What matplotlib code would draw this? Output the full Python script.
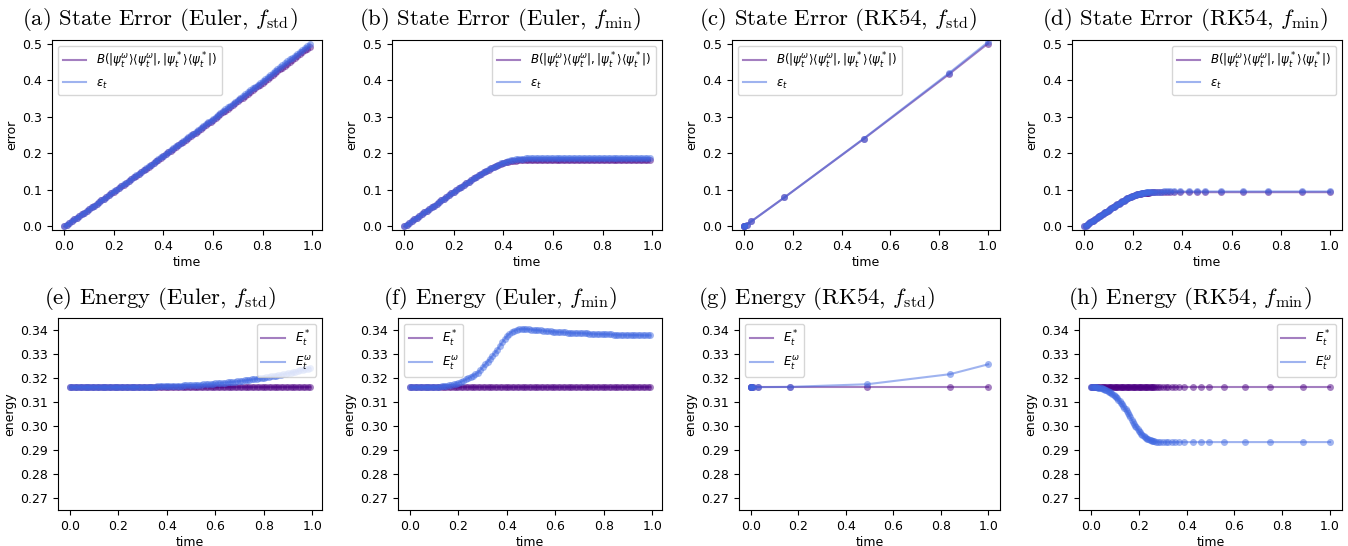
import matplotlib
matplotlib.use('Agg')
from matplotlib import pyplot as plt

plt.rcParams['mathtext.fontset'] = 'dejavusans'

# ---- data ----
# Euler grid, dt = 0.01
t_euler = [0.00, 0.01, 0.02, 0.03, 0.04, 0.05, 0.06, 0.07, 0.08, 0.09,
           0.10, 0.11, 0.12, 0.13, 0.14, 0.15, 0.16, 0.17, 0.18, 0.19,
           0.20, 0.21, 0.22, 0.23, 0.24, 0.25, 0.26, 0.27, 0.28, 0.29,
           0.30, 0.31, 0.32, 0.33, 0.34, 0.35, 0.36, 0.37, 0.38, 0.39,
           0.40, 0.41, 0.42, 0.43, 0.44, 0.45, 0.46, 0.47, 0.48, 0.49,
           0.50, 0.51, 0.52, 0.53, 0.54, 0.55, 0.56, 0.57, 0.58, 0.59,
           0.60, 0.61, 0.62, 0.63, 0.64, 0.65, 0.66, 0.67, 0.68, 0.69,
           0.70, 0.71, 0.72, 0.73, 0.74, 0.75, 0.76, 0.77, 0.78, 0.79,
           0.80, 0.81, 0.82, 0.83, 0.84, 0.85, 0.86, 0.87, 0.88, 0.89,
           0.90, 0.91, 0.92, 0.93, 0.94, 0.95, 0.96, 0.97, 0.98, 0.99]

# (a) Euler, f_std
bures_a = [0.0, 0.0047, 0.0094, 0.0141, 0.0189, 0.0236, 0.0283, 0.0331, 0.0377, 0.0425,
           0.0473, 0.0520, 0.0568, 0.0616, 0.0663, 0.0711, 0.0759, 0.0807, 0.0854, 0.0903,
           0.0951, 0.0998, 0.1047, 0.1096, 0.1143, 0.1192, 0.1241, 0.1289, 0.1337, 0.1385,
           0.1435, 0.1483, 0.1532, 0.1580, 0.1630, 0.1678, 0.1727, 0.1776, 0.1825, 0.1874,
           0.1923, 0.1973, 0.2022, 0.2071, 0.2121, 0.2170, 0.2219, 0.2268, 0.2319, 0.2368,
           0.2418, 0.2467, 0.2517, 0.2567, 0.2617, 0.2667, 0.2717, 0.2767, 0.2817, 0.2867,
           0.2917, 0.2967, 0.3018, 0.3068, 0.3118, 0.3169, 0.3219, 0.3270, 0.3321, 0.3372,
           0.3423, 0.3473, 0.3524, 0.3575, 0.3626, 0.3677, 0.3728, 0.3780, 0.3830, 0.3881,
           0.3933, 0.3985, 0.4035, 0.4087, 0.4139, 0.4190, 0.4242, 0.4293, 0.4345, 0.4397,
           0.4449, 0.4501, 0.4552, 0.4605, 0.4656, 0.4709, 0.4761, 0.4813, 0.4865, 0.4918]
eps_a = [0.0, 0.0047, 0.0094, 0.0141, 0.0189, 0.0236, 0.0283, 0.0331, 0.0378, 0.0426,
         0.0474, 0.0521, 0.0569, 0.0617, 0.0665, 0.0713, 0.0761, 0.0809, 0.0857, 0.0906,
         0.0954, 0.1002, 0.1051, 0.1100, 0.1148, 0.1197, 0.1246, 0.1295, 0.1343, 0.1392,
         0.1442, 0.1491, 0.1540, 0.1589, 0.1639, 0.1688, 0.1737, 0.1787, 0.1837, 0.1886,
         0.1936, 0.1986, 0.2036, 0.2086, 0.2136, 0.2186, 0.2236, 0.2286, 0.2337, 0.2387,
         0.2438, 0.2488, 0.2539, 0.2589, 0.2640, 0.2691, 0.2742, 0.2793, 0.2844, 0.2895,
         0.2946, 0.2997, 0.3049, 0.3100, 0.3151, 0.3203, 0.3254, 0.3306, 0.3358, 0.3410,
         0.3462, 0.3513, 0.3565, 0.3618, 0.3670, 0.3722, 0.3774, 0.3827, 0.3879, 0.3931,
         0.3984, 0.4037, 0.4089, 0.4142, 0.4195, 0.4248, 0.4301, 0.4354, 0.4407, 0.4460,
         0.4514, 0.4567, 0.4620, 0.4674, 0.4727, 0.4781, 0.4835, 0.4888, 0.4942, 0.4996]

# (b) Euler, f_min
bures_b = [0.0, 0.0048, 0.0095, 0.0143, 0.0190, 0.0238, 0.0285, 0.0333, 0.0380, 0.0428,
           0.0475, 0.0522, 0.0570, 0.0617, 0.0665, 0.0712, 0.0760, 0.0807, 0.0855, 0.0902,
           0.0950, 0.0996, 0.1043, 0.1089, 0.1135, 0.1180, 0.1225, 0.1269, 0.1313, 0.1356,
           0.1398, 0.1438, 0.1477, 0.1515, 0.1551, 0.1586, 0.1619, 0.1650, 0.1679, 0.1705,
           0.1728, 0.1748, 0.1765, 0.1779, 0.1790, 0.1798, 0.1803, 0.1806, 0.1808, 0.1809,
           0.1810, 0.1810, 0.1810, 0.1810, 0.1810, 0.1810, 0.1810, 0.1810, 0.1810, 0.1810,
           0.1810, 0.1810, 0.1810, 0.1810, 0.1810, 0.1810, 0.1810, 0.1810, 0.1810, 0.1810,
           0.1810, 0.1810, 0.1810, 0.1810, 0.1810, 0.1810, 0.1810, 0.1810, 0.1810, 0.1810,
           0.1810, 0.1810, 0.1810, 0.1810, 0.1810, 0.1810, 0.1810, 0.1810, 0.1810, 0.1810,
           0.1810, 0.1810, 0.1810, 0.1810, 0.1810, 0.1810, 0.1810, 0.1810, 0.1810, 0.1810]
eps_b = [0.0, 0.0048, 0.0095, 0.0143, 0.0190, 0.0238, 0.0285, 0.0333, 0.0380, 0.0428,
         0.0475, 0.0522, 0.0570, 0.0617, 0.0665, 0.0712, 0.0760, 0.0807, 0.0855, 0.0902,
         0.0950, 0.0996, 0.1043, 0.1089, 0.1135, 0.1180, 0.1225, 0.1269, 0.1313, 0.1356,
         0.1398, 0.1440, 0.1480, 0.1519, 0.1557, 0.1593, 0.1628, 0.1661, 0.1692, 0.1721,
         0.1747, 0.1771, 0.1792, 0.1809, 0.1823, 0.1834, 0.1843, 0.1850, 0.1855, 0.1858,
         0.1861, 0.1862, 0.1863, 0.1864, 0.1864, 0.1864, 0.1864, 0.1864, 0.1864, 0.1864,
         0.1864, 0.1864, 0.1864, 0.1864, 0.1864, 0.1864, 0.1864, 0.1864, 0.1864, 0.1864,
         0.1864, 0.1864, 0.1864, 0.1864, 0.1864, 0.1864, 0.1864, 0.1864, 0.1864, 0.1864,
         0.1864, 0.1864, 0.1864, 0.1864, 0.1864, 0.1864, 0.1864, 0.1864, 0.1864, 0.1864,
         0.1864, 0.1864, 0.1864, 0.1864, 0.1864, 0.1864, 0.1864, 0.1864, 0.1864, 0.1864]

# (e)/(f) Euler energies
e_star_euler = [0.3162, 0.3162, 0.3162, 0.3162, 0.3162, 0.3162, 0.3162, 0.3162, 0.3162, 0.3162,
                0.3162, 0.3162, 0.3162, 0.3162, 0.3162, 0.3162, 0.3162, 0.3162, 0.3162, 0.3162,
                0.3162, 0.3162, 0.3162, 0.3162, 0.3162, 0.3162, 0.3162, 0.3162, 0.3162, 0.3162,
                0.3162, 0.3162, 0.3162, 0.3162, 0.3162, 0.3162, 0.3162, 0.3162, 0.3162, 0.3162,
                0.3162, 0.3162, 0.3162, 0.3162, 0.3162, 0.3162, 0.3162, 0.3162, 0.3162, 0.3162,
                0.3162, 0.3162, 0.3162, 0.3162, 0.3162, 0.3162, 0.3162, 0.3162, 0.3162, 0.3162,
                0.3162, 0.3162, 0.3162, 0.3162, 0.3162, 0.3162, 0.3162, 0.3162, 0.3162, 0.3162,
                0.3162, 0.3162, 0.3162, 0.3162, 0.3162, 0.3162, 0.3162, 0.3162, 0.3162, 0.3162,
                0.3162, 0.3162, 0.3162, 0.3162, 0.3162, 0.3162, 0.3162, 0.3162, 0.3162, 0.3162,
                0.3162, 0.3162, 0.3162, 0.3162, 0.3162, 0.3162, 0.3162, 0.3162, 0.3162, 0.3162]
e_omega_e = [0.3162, 0.3162, 0.3162, 0.3162, 0.3162, 0.3162, 0.3162, 0.3162, 0.3162, 0.3162,
             0.3162, 0.3162, 0.3162, 0.3162, 0.3162, 0.3162, 0.3162, 0.3162, 0.3162, 0.3162,
             0.3162, 0.3162, 0.31622, 0.31623, 0.31625, 0.31626, 0.31628, 0.3163, 0.31631, 0.31633,
             0.31635, 0.31637, 0.31639, 0.31641, 0.31643, 0.31645, 0.31648, 0.31651, 0.31654, 0.31657,
             0.3166, 0.31663, 0.31667, 0.31671, 0.31675, 0.31679, 0.31684, 0.31688, 0.31693, 0.31698,
             0.31704, 0.31709, 0.31715, 0.31721, 0.31728, 0.31734, 0.31741, 0.31748, 0.31756, 0.31764,
             0.31772, 0.31781, 0.3179, 0.31799, 0.31808, 0.31818, 0.31828, 0.31839, 0.3185, 0.31861,
             0.31873, 0.31885, 0.31897, 0.3191, 0.31924, 0.31938, 0.31952, 0.31967, 0.31982, 0.31997,
             0.32013, 0.32029, 0.32046, 0.32063, 0.32081, 0.321, 0.32119, 0.32138, 0.32158, 0.32178,
             0.32199, 0.32221, 0.32243, 0.32266, 0.32289, 0.32313, 0.32337, 0.32362, 0.32387, 0.32413]
e_omega_f = [0.3162, 0.3162, 0.3162, 0.3162, 0.3162, 0.31621, 0.31621, 0.31622, 0.31623, 0.31625,
             0.3163, 0.31635, 0.3164, 0.3165, 0.3166, 0.31675, 0.3169, 0.3171, 0.3174, 0.3177,
             0.318, 0.31845, 0.3189, 0.3194, 0.3199, 0.32045, 0.321, 0.3216, 0.3222, 0.32335,
             0.3245, 0.32565, 0.3268, 0.328, 0.3292, 0.3305, 0.3318, 0.3333, 0.3348, 0.33615,
             0.3375, 0.3384, 0.3393, 0.33975, 0.3402, 0.34035, 0.3405, 0.34045, 0.3404, 0.3403,
             0.3402, 0.3401, 0.34, 0.3399, 0.3398, 0.3397, 0.3396, 0.3395, 0.3394, 0.33935,
             0.3393, 0.3392, 0.3391, 0.33905, 0.339, 0.33895, 0.3389, 0.33885, 0.3388, 0.33875,
             0.3387, 0.33865, 0.3386, 0.33855, 0.3385, 0.33845, 0.3384, 0.33835, 0.3383, 0.3383,
             0.3383, 0.33825, 0.3382, 0.33815, 0.3381, 0.3381, 0.3381, 0.33805, 0.338, 0.338,
             0.338, 0.33795, 0.3379, 0.3379, 0.3379, 0.33785, 0.3378, 0.3378, 0.3378, 0.3378]

# RK54, f_std (adaptive steps)
t_rk_std = [0.0, 0.0001, 0.0011, 0.0111, 0.03, 0.165, 0.49, 0.84, 1.0]
bures_c = [0.0, 0.00005, 0.0005, 0.005, 0.014, 0.079, 0.239, 0.416, 0.500]
eps_c = [0.0, 0.00005, 0.0005, 0.005, 0.014, 0.079, 0.240, 0.419, 0.504]
e_star_g = [0.3162, 0.3162, 0.3162, 0.3162, 0.3162, 0.3162, 0.3162, 0.3162, 0.3162]
e_omega_g = [0.3162, 0.3162, 0.3162, 0.3162, 0.3162, 0.3163, 0.3174, 0.3216, 0.3257]

# RK54, f_min (adaptive steps)
t_rk_min = [0.0, 0.005, 0.01, 0.015, 0.02, 0.025, 0.03, 0.035, 0.04, 0.045,
            0.05, 0.055, 0.06, 0.065, 0.07, 0.075, 0.08, 0.085, 0.09, 0.095,
            0.10, 0.105, 0.11, 0.115, 0.12, 0.125, 0.13, 0.135, 0.14, 0.145,
            0.15, 0.155, 0.16, 0.165, 0.17, 0.175, 0.18, 0.185, 0.19, 0.195,
            0.20, 0.205, 0.21, 0.215, 0.22, 0.225, 0.23, 0.235, 0.24, 0.245,
            0.25, 0.255, 0.26, 0.265, 0.27,
            0.28, 0.29, 0.30, 0.312, 0.324, 0.337, 0.35, 0.367, 0.391, 0.425,
            0.46, 0.492, 0.555, 0.645, 0.75, 0.886, 1.0]
bures_d = [0.0, 0.00225, 0.0045, 0.00675, 0.009, 0.01125, 0.0135, 0.01575, 0.018, 0.02025,
           0.0225, 0.02475, 0.027, 0.02925, 0.0315, 0.03375, 0.036, 0.03825, 0.0405, 0.04275,
           0.045, 0.0472, 0.0494, 0.0516, 0.0538, 0.056, 0.0582, 0.06035, 0.0625, 0.0646,
           0.0667, 0.0687, 0.0707, 0.0726, 0.0745, 0.0763, 0.078, 0.07955, 0.0811, 0.08245,
           0.0838, 0.0851, 0.0862, 0.0872, 0.0882, 0.089, 0.0898, 0.0904, 0.091, 0.0914,
           0.0918, 0.0921, 0.0924, 0.0926, 0.0928,
           0.0931, 0.0933, 0.0934, 0.0935, 0.0935, 0.0935, 0.0935, 0.0935, 0.0935, 0.0935,
           0.0935, 0.0935, 0.0935, 0.0935, 0.0935, 0.0935, 0.0935]
eps_d = [0.0, 0.00225, 0.0045, 0.00675, 0.009, 0.01125, 0.0135, 0.01575, 0.018, 0.02025,
         0.0225, 0.02475, 0.027, 0.02925, 0.0315, 0.03375, 0.036, 0.03825, 0.0405, 0.04275,
         0.045, 0.0472, 0.0494, 0.0516, 0.0538, 0.056, 0.0582, 0.06035, 0.0625, 0.0646,
         0.0667, 0.0687, 0.0707, 0.0726, 0.0745, 0.0763, 0.0781, 0.07975, 0.0814, 0.08285,
         0.0843, 0.08555, 0.0868, 0.08785, 0.0889, 0.08975, 0.0906, 0.09125, 0.0919, 0.0924,
         0.0929, 0.0933, 0.0937, 0.094, 0.0943,
         0.0947, 0.095, 0.0952, 0.0953, 0.0954, 0.0955, 0.0955, 0.0955, 0.0955, 0.0955,
         0.0955, 0.0955, 0.0955, 0.0955, 0.0955, 0.0955, 0.0955]
e_star_h = [0.3162, 0.3162, 0.3162, 0.3162, 0.3162, 0.3162, 0.3162, 0.3162, 0.3162, 0.3162,
            0.3162, 0.3162, 0.3162, 0.3162, 0.3162, 0.3162, 0.3162, 0.3162, 0.3162, 0.3162,
            0.3162, 0.3162, 0.3162, 0.3162, 0.3162, 0.3162, 0.3162, 0.3162, 0.3162, 0.3162,
            0.3162, 0.3162, 0.3162, 0.3162, 0.3162, 0.3162, 0.3162, 0.3162, 0.3162, 0.3162,
            0.3162, 0.3162, 0.3162, 0.3162, 0.3162, 0.3162, 0.3162, 0.3162, 0.3162, 0.3162,
            0.3162, 0.3162, 0.3162, 0.3162, 0.3162,
            0.3162, 0.3162, 0.3162, 0.3162, 0.3162, 0.3162, 0.3162, 0.3162, 0.3162, 0.3162,
            0.3162, 0.3162, 0.3162, 0.3162, 0.3162, 0.3162, 0.3162]
e_omega_h = [0.3162, 0.3162, 0.3162, 0.31615, 0.3161, 0.31605, 0.316, 0.3159, 0.3158, 0.31565,
             0.3155, 0.3153, 0.3151, 0.31485, 0.3146, 0.3143, 0.314, 0.31365, 0.3133, 0.3129,
             0.3125, 0.312, 0.3115, 0.31095, 0.3104, 0.30975, 0.3091, 0.3084, 0.3077, 0.30695,
             0.3062, 0.3054, 0.3046, 0.30365, 0.3027, 0.30185, 0.301, 0.3002, 0.2994, 0.2987,
             0.298, 0.2974, 0.2968, 0.2963, 0.2958, 0.2954, 0.295, 0.2947, 0.2944, 0.2942,
             0.294, 0.29385, 0.2937, 0.2936, 0.2935,
             0.2934, 0.2933, 0.2933, 0.2933, 0.2933, 0.2933, 0.2933, 0.2933, 0.2933, 0.2933,
             0.2933, 0.2933, 0.2933, 0.2933, 0.2933, 0.2933, 0.2933]

bures_label = r'$B(|\psi_t^\omega\rangle\langle\psi_t^\omega|, |\psi_t^*\rangle\langle\psi_t^*|)$'
eps_label = r'$\varepsilon_t$'
estar_label = r'$E_t^*$'
eomega_label = r'$E_t^\omega$'

titles = [
    r'(a) State Error (Euler, $f_{\mathrm{std}}$)',
    r'(b) State Error (Euler, $f_{\mathrm{min}}$)',
    r'(c) State Error (RK54, $f_{\mathrm{std}}$)',
    r'(d) State Error (RK54, $f_{\mathrm{min}}$)',
    r'(e) Energy (Euler, $f_{\mathrm{std}}$)',
    r'(f) Energy (Euler, $f_{\mathrm{min}}$)',
    r'(g) Energy (RK54, $f_{\mathrm{std}}$)',
    r'(h) Energy (RK54, $f_{\mathrm{min}}$)',
]

C_STAR = 'indigo'
C_OMEGA = 'royalblue'

W, H = 1348, 546
fig = plt.figure(figsize=(W / 100, H / 100), dpi=100)

# axes boxes in pixels: left, right, top, bottom
boxes = [(52, 322, 40, 230), (392, 662, 40, 230), (732, 1000, 40, 230), (1072, 1342, 40, 230),
         (58, 322, 318, 510), (398, 662, 318, 510), (739, 1000, 318, 510), (1079, 1342, 318, 510)]
# sub-caption centres / baselines in pixels (captions sit over each sub-image)
title_pos = [(160, 25), (500, 25), (838, 25), (1185, 25),
             (160, 304), (500, 304), (817, 304), (1190, 304)]

panels = [
    (t_euler, bures_a, eps_a, bures_label, eps_label, 'upper left', 'error'),
    (t_euler, bures_b, eps_b, bures_label, eps_label, 'upper right', 'error'),
    (t_rk_std, bures_c, eps_c, bures_label, eps_label, 'upper left', 'error'),
    (t_rk_min, bures_d, eps_d, bures_label, eps_label, 'upper right', 'error'),
    (t_euler, e_star_euler, e_omega_e, estar_label, eomega_label, 'upper right', 'energy'),
    (t_euler, e_star_euler, e_omega_f, estar_label, eomega_label, 'upper left', 'energy'),
    (t_rk_std, e_star_g, e_omega_g, estar_label, eomega_label, 'upper left', 'energy'),
    (t_rk_min, e_star_h, e_omega_h, estar_label, eomega_label, 'upper right', 'energy'),
]

for (l, r, tp, b), (t, y1, y2, l1, l2, loc, ylab), title, (tx, ty) in zip(boxes, panels, titles, title_pos):
    ax = fig.add_axes([l / W, 1 - b / H, (r - l) / W, (b - tp) / H])
    ax.plot(t, y1, color=C_STAR, alpha=0.5, lw=1.5, label=l1)
    ax.plot(t, y1, 'o', color=C_STAR, alpha=0.5, ms=5, mew=0)
    ax.plot(t, y2, color=C_OMEGA, alpha=0.5, lw=1.5, label=l2)
    ax.plot(t, y2, 'o', color=C_OMEGA, alpha=0.5, ms=5, mew=0)
    ax.set_xticks([0.0, 0.2, 0.4, 0.6, 0.8, 1.0])
    if ylab == 'error':
        ax.set_ylim(-0.01, 0.51)
        ax.set_yticks([0.0, 0.1, 0.2, 0.3, 0.4, 0.5])
    else:
        ax.set_ylim(0.265, 0.345)
        ax.set_yticks([0.27, 0.28, 0.29, 0.30, 0.31, 0.32, 0.33, 0.34])
    ax.tick_params(labelsize=9)
    ax.set_xlabel('time', fontsize=9, labelpad=2)
    ax.set_ylabel(ylab, fontsize=9, labelpad=3)
    ax.legend(loc=loc, fontsize=8.5)
    fig.text(tx / W, 1 - ty / H, title, ha='center', va='baseline', fontsize=16.4,
             family='cmr10', math_fontfamily='cm')

fig.savefig('out.png', dpi=100)
